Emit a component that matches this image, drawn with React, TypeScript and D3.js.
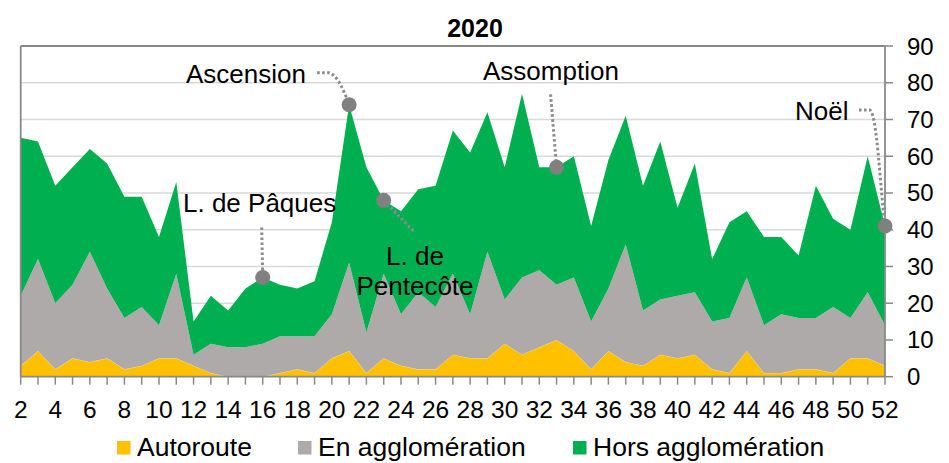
import React from "react";
import * as d3 from "d3";

const weeks = [2,3,4,5,6,7,8,9,10,11,12,13,14,15,16,17,18,19,20,21,22,23,24,25,26,27,28,29,30,31,32,33,34,35,36,37,38,39,40,41,42,43,44,45,46,47,48,49,50,51,52];
const autoroute = [3,7,2,5,4,5,2,3,5,5, 3,1,0,0,0,1,2,1,5,7, 1,5,3,2,2,6,5,5,9,6, 8,10,7,2,7,4,3,6,5,6, 2,1,7,1,1,2,2,1,5,5, 3];
const enAgglo = [19,25,18,20,30,19,14,16,9,23, 3,8,8,8,9,10,9,10,12,24, 11,23,14,21,17,22,12,29,12,21, 21,15,20,13,17,32,15,15,17,17, 13,15,20,13,16,14,14,18,11,18, 11];
const horsAgglo = [43,32,32,32,28,34,33,30,24,25, 9,13,10,16,18,14,13,15,25,43, 45,20,28,28,33,39,44,38,36,50, 28,32,33,26,35,35,34,43,24,35, 17,26,18,24,21,17,36,24,24,37, 27];
const seriesNames = ["Autoroute", "En agglomération", "Hors agglomération"];
const seriesColors = ["#FFC000", "#AEAAAA", "#00B050"];
const yTicks = [0,10,20,30,40,50,60,70,80,90];
const xLabels = [2,4,6,8,10,12,14,16,18,20,22,24,26,28,30,32,34,36,38,40,42,44,46,48,50,52];
const title = "2020";
const annotationWeeks = [16, 21, 23, 33, 52];
const annotationLabels = ["L. de Pâques", "Ascension", "L. de Pentecôte", "Assomption", "Noël"];

const W = 949, H = 463;
const L = 20.7, R = 885, T = 46, B = 376.7;
const FONT = "'Liberation Sans', Arial, sans-serif";

export default function App() {
  const x = d3.scaleLinear().domain([2, 52]).range([L, R]);
  const y = d3.scaleLinear().domain([0, 90]).range([B, T]);
  const rows = weeks.map((w, i) => ({ w, a: autoroute[i], e: enAgglo[i], h: horsAgglo[i] }));
  const stack = d3.stack<any>().keys(["a", "e", "h"]);
  const stacked = stack(rows);
  const area = d3.area<any>().x((d) => x(d.data.w)).y0((d) => y(d[0])).y1((d) => y(d[1]));
  const total = (w: number) => {
    const i = weeks.indexOf(w);
    return autoroute[i] + enAgglo[i] + horsAgglo[i];
  };
  const pt = (k: number) => [x(annotationWeeks[k]), y(total(annotationWeeks[k]))];
  const [p0, p1, p2, p3, p4] = [0, 1, 2, 3, 4].map(pt);
  const gray = "#898989";
  const dot = { stroke: "#8C8C8C", strokeWidth: 3, strokeDasharray: "2.6,2.4", fill: "none" };

  return (
    <svg width={W} height={H} style={{ position: "absolute", left: 0, top: 0, background: "#fff" }} fontFamily={FONT}>
      <text x={475} y={37} textAnchor="middle" fontWeight="bold" fontSize={25}>{title}</text>
      {yTicks.filter((t) => t > 0 && t < 90).map((t) => (
        <line key={t} x1={L} x2={R} y1={y(t)} y2={y(t)} stroke="#D9D9D9" strokeWidth={1.5} />
      ))}
      {stacked.map((s, i) => (
        <path key={i} d={area(s) || ""} fill={seriesColors[i]} stroke={i === 0 ? "#FFE9A8" : "none"} strokeWidth={0.6} />
      ))}
      {/* frame */}
      <line x1={L} x2={R} y1={T} y2={T} stroke={gray} strokeWidth={1.8} />
      <line x1={L} x2={L} y1={T} y2={B} stroke={gray} strokeWidth={1.8} />
      <line x1={R} x2={R} y1={T} y2={B} stroke={gray} strokeWidth={1.8} />
      <line x1={L} x2={R} y1={B} y2={B} stroke={gray} strokeWidth={1.8} />
      {weeks.map((w) => (
        <line key={w} x1={x(w)} x2={x(w)} y1={B} y2={B + 8} stroke={gray} strokeWidth={1.5} />
      ))}
      {yTicks.map((t) => (
        <line key={t} x1={R} x2={R + 8} y1={y(t)} y2={y(t)} stroke={gray} strokeWidth={1.5} />
      ))}
      {yTicks.map((t) => (
        <text key={t} x={907} y={y(t) + 8.5} fontSize={24}>{t}</text>
      ))}
      {xLabels.map((w) => (
        <text key={w} x={x(w)} y={418} textAnchor="middle" fontSize={24.5}>{w}</text>
      ))}
      {/* annotations */}
      <path d={`M${p0[0] - 1},${p0[1] - 50} L${p0[0]},${p0[1]}`} style={dot as any} />
      <path d={`M${p1[0] - 32},${p1[1] - 32} L${p1[0] - 20},${p1[1] - 32} C${p1[0] - 12},${p1[1] - 30} ${p1[0] - 5},${p1[1] - 14} ${p1[0]},${p1[1]}`} style={dot as any} />
      <path d={`M${p2[0]},${p2[1]} L${p2[0] + 30},${p2[1] + 31}`} style={dot as any} />
      <path d={`M${p3[0] - 6},${p3[1] - 73} L${p3[0]},${p3[1]}`} style={dot as any} />
      <path d={`M${p4[0] - 26},${p4[1] - 116} L${p4[0] - 15},${p4[1] - 116} C${p4[0] - 8},${p4[1] - 112} ${p4[0] - 5},${p4[1] - 40} ${p4[0]},${p4[1]}`} style={dot as any} />
      {[p0, p1, p2, p3, p4].map((p, i) => (
        <circle key={i} cx={p[0]} cy={p[1]} r={7.5} fill="#808080" />
      ))}
      <text x={183} y={212} fontSize={26}>{annotationLabels[0]}</text>
      <text x={186} y={83} fontSize={26}>{annotationLabels[1]}</text>
      <text x={415} y={265} textAnchor="middle" fontSize={26}>L. de</text>
      <text x={415} y={295} textAnchor="middle" fontSize={26}>Pentecôte</text>
      <text x={483} y={80} fontSize={26}>{annotationLabels[3]}</text>
      <text x={795} y={120} fontSize={26}>{annotationLabels[4]}</text>
      {/* legend */}
      {seriesNames.map((n, i) => {
        const lx = [117, 298, 573][i];
        return (
          <g key={n}>
            <rect x={lx} y={441} width={13.5} height={13.5} fill={seriesColors[i]} />
            <text x={lx + 20} y={456} fontSize={26.5}>{n}</text>
          </g>
        );
      })}
    </svg>
  );
}
